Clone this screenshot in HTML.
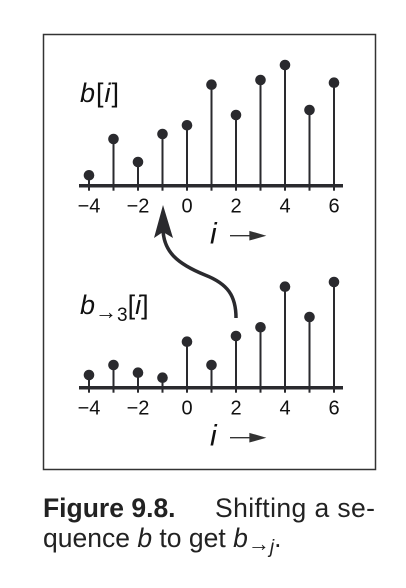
<!DOCTYPE html>
<html><head><meta charset="utf-8"><style>
html,body{margin:0;padding:0;background:#fff;width:406px;height:588px;overflow:hidden}
svg{display:block}
</style></head><body>
<svg width="406" height="588" viewBox="0 0 406 588" font-family="Liberation Sans, sans-serif">
<rect x="43.5" y="34.5" width="332" height="435" fill="none" stroke="#333" stroke-width="1.5"/>
<g id="top"></g>
<g id="bot"></g>
<text x="80" y="102" font-size="27" font-style="italic" fill="#111" letter-spacing="1">b<tspan font-style="normal">[</tspan>i<tspan font-style="normal">]</tspan></text>
<text x="80" y="314" font-size="27" font-style="italic" fill="#111">b<tspan font-style="normal" font-size="22" dy="5">→</tspan><tspan font-style="normal" font-size="19" dy="2">3</tspan><tspan font-style="normal" dy="-7">[</tspan>i<tspan font-style="normal">]</tspan></text>
<path d="M236,318 C236,296 228,284 205,275 C178,264 163,252 163,228" fill="none" stroke="#2a2a2e" stroke-width="3.5"/>
<path d="M163,205 L173,238 L163,232 L154,238 Z" fill="#2a2a2e"/>
<text x="43" y="517" font-size="26.5" font-weight="bold" fill="#222">Figure 9.8.</text>
<text x="215" y="517" font-size="26.5" fill="#222" textLength="160">Shifting a se-</text>
<text x="43" y="547" font-size="26.5" fill="#222">quence <tspan font-style="italic">b</tspan> to get <tspan font-style="italic">b</tspan><tspan font-size="22" dy="4">→</tspan><tspan font-size="19" font-style="italic" dy="2">j</tspan><tspan dy="-6">.</tspan></text>
</svg>
<script>
const indices = [-4,-3,-2,-1,0,1,2,3,4,5,6];
const tickLabels = ["−4","−2","0","2","4","6"];
const tickValues = [-4,-2,0,2,4,6];
const bValues = [1.04,4.67,2.37,5.17,6.04,10.1,7.07,10.57,12.07,7.57,10.3];
const bShiftValues = [1.27,2.27,1.5,1.0,4.6,2.27,5.17,6.04,10.1,7.07,10.57];
const NS='http://www.w3.org/2000/svg';
function xS(i){return 89+(i+4)*24.5;}
function mk(tag,attrs,parent){const e=document.createElementNS(NS,tag);for(const k in attrs)e.setAttribute(k,attrs[k]);parent.appendChild(e);return e;}
function draw(g,vals,axisY,pre){
  const yS=v=>axisY-v*10;
  indices.forEach((idx,k)=>{
    const l=mk('line',{x1:xS(idx),x2:xS(idx),y1:axisY+5,y2:yS(vals[k]),stroke:'#2a2a2e','stroke-width':2},g);
    
    
    const c=mk('circle',{cx:xS(idx),cy:yS(vals[k]),r:5.3,fill:'#2a2a2e'},g);
    
    
  });
  const ax=mk('line',{x1:79,x2:343,y1:axisY,y2:axisY,stroke:'#2a2a2e','stroke-width':3.5},g);
  
  
  tickValues.forEach((tv,k)=>{
    const t=mk('text',{x:xS(tv),y:axisY+27,'font-size':20,'text-anchor':'middle',fill:'#111'},g);
    t.textContent=tickLabels[k];
    
    
  });
  const xt=mk('text',{x:210,y:axisY+58,'font-size':30,'font-style':'italic',fill:'#111'},g);
  xt.textContent='i';
  
  
  const ar=mk('path',{d:`M230,${axisY+50} L258,${axisY+50} M250,${axisY+46} L264,${axisY+50} L250,${axisY+54} Z`,stroke:'#333','stroke-width':1.3,fill:'#333'},g);
  
  
}
draw(document.getElementById('top'),bValues,185.7,'top');
draw(document.getElementById('bot'),bShiftValues,387.7,'bottom');
</script>
</body></html>
